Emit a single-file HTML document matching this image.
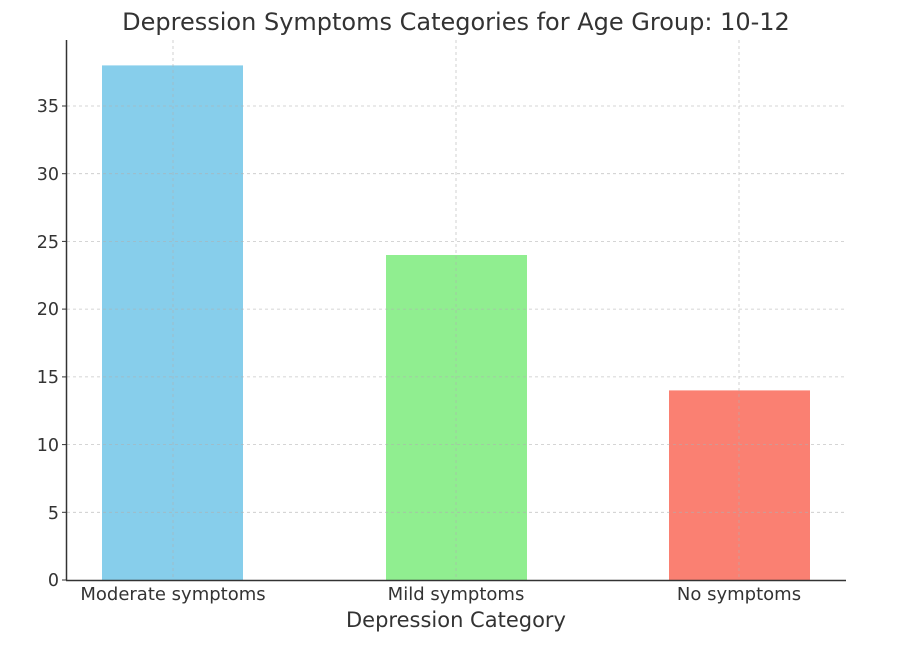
<!DOCTYPE html>
<html><head><style>body{margin:0;background:#fff}</style></head><body>
<svg width="914" height="664" xmlns="http://www.w3.org/2000/svg" font-family="DejaVu Sans, sans-serif" fill="#333">
<rect width="914" height="664" fill="#fff"/>
<rect x="102" y="65.4" width="141" height="514.6" fill="#87ceeb"/>
<rect x="386" y="255" width="141" height="325" fill="#90ee90"/>
<rect x="669" y="390.4" width="141" height="189.6" fill="#fa8072"/>
<g stroke="#b0b0b0" stroke-width="0.8" stroke-dasharray="3,3" opacity="0.7">
<line x1="67" x2="846" y1="512.3" y2="512.3"/>
<line x1="67" x2="846" y1="444.6" y2="444.6"/>
<line x1="67" x2="846" y1="376.9" y2="376.9"/>
<line x1="67" x2="846" y1="309.1" y2="309.1"/>
<line x1="67" x2="846" y1="241.4" y2="241.4"/>
<line x1="67" x2="846" y1="173.7" y2="173.7"/>
<line x1="67" x2="846" y1="106" y2="106"/>
<line x1="173" x2="173" y1="40" y2="580"/>
<line x1="456" x2="456" y1="40" y2="580"/>
<line x1="739" x2="739" y1="40" y2="580"/>
</g>
<g stroke="#333" stroke-width="1.5">
<line x1="66.5" y1="40" x2="66.5" y2="580.5"/>
<line x1="66" y1="580.5" x2="846" y2="580.5"/>
</g>
<g stroke="#333" stroke-width="1">
<line x1="62" x2="66" y1="580" y2="580"/><line x1="62" x2="66" y1="512.3" y2="512.3"/>
<line x1="62" x2="66" y1="444.6" y2="444.6"/><line x1="62" x2="66" y1="376.9" y2="376.9"/>
<line x1="62" x2="66" y1="309.1" y2="309.1"/><line x1="62" x2="66" y1="241.4" y2="241.4"/>
<line x1="62" x2="66" y1="173.7" y2="173.7"/><line x1="62" x2="66" y1="106" y2="106"/>
</g>
<g font-size="17.5" text-anchor="end">
<text x="59" y="586">0</text><text x="59" y="519">5</text><text x="59" y="451">10</text>
<text x="59" y="383">15</text><text x="59" y="315">20</text><text x="59" y="248">25</text>
<text x="59" y="180">30</text><text x="59" y="112">35</text>
</g>
<g font-size="18" text-anchor="middle">
<text x="173" y="600">Moderate symptoms</text>
<text x="456" y="600">Mild symptoms</text>
<text x="739" y="600">No symptoms</text>
</g>
<text x="456" y="627" font-size="21" text-anchor="middle">Depression Category</text>
<text x="456" y="30" font-size="24" text-anchor="middle">Depression Symptoms Categories for Age Group: 10-12</text>
</svg>
</body></html>
